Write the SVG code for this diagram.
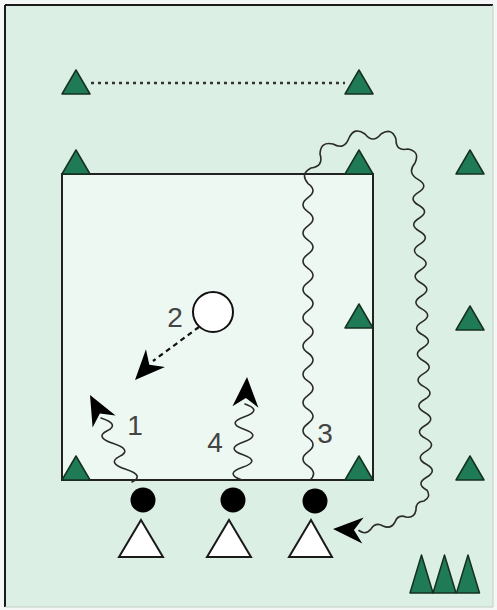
<svg xmlns="http://www.w3.org/2000/svg" xmlns:xlink="http://www.w3.org/1999/xlink" width="497" height="610" viewBox="0 0 497 610">
  <style>
    .cone { fill: #1f7a56; stroke: #16301f; stroke-width: 1.5; stroke-linejoin: round; }
    .wave { fill: none; stroke: #2a2a2a; stroke-width: 1.6; stroke-linecap: round; }
    .head { fill: #000; stroke: none; }
    .num { font-family: "Liberation Sans", Arial, sans-serif; font-size: 28px; fill: #444; text-anchor: middle; }
    .player { fill: #fff; stroke: #1a1a1a; stroke-width: 2; stroke-linejoin: miter; }
  </style>
  <defs>
    <path id="cone" class="cone" d="M0,-24 L14,0 L-14,0 Z"/>
    <path id="tall" class="cone" d="M0,-38 L11.5,0 L-11.5,0 Z"/>
    <path id="head" class="head" d="M0,0 L-30,-13 L-21,0 L-30,13 Z"/>
  </defs>

  <rect x="0" y="0" width="497" height="610" fill="#f4f7f5"/>
  <rect id="field" x="5" y="5" width="488" height="602" fill="#dcefe4"/>
  <line x1="5" y1="5" x2="493" y2="5" stroke="#1a1a1a" stroke-width="2"/>
  <line x1="5" y1="5" x2="5" y2="607" stroke="#1a1a1a" stroke-width="2"/>
  <line x1="493" y1="5" x2="493" y2="607" stroke="#c4cfc8" stroke-width="1"/>
  <line x1="5" y1="607" x2="493" y2="607" stroke="#c4cfc8" stroke-width="1"/>

  <g id="area">
    <rect x="62" y="174" width="311" height="306" fill="#eef8f2" stroke="#222" stroke-width="2"/>
  </g>

  <g id="connectors">
    <line x1="91" y1="83" x2="345" y2="83" stroke="#333" stroke-width="2.5" stroke-dasharray="3,4"/>
    <line x1="199" y1="327" x2="153" y2="361" stroke="#111" stroke-width="2.2" stroke-dasharray="5,4"/>
    <use xlink:href="#head" transform="translate(135,380) rotate(133)"/>
    <path class="wave" d="M132,482 Q145,475.6 125.8,469.2 T119.6,456.4 T113.4,443.6 T107.2,430.8 T101,418"/>
    <use xlink:href="#head" transform="translate(90,395) rotate(-118)"/>
    <path class="wave" d="M242,480 Q224,473.7 242.5,467.3 T243,454.7 T243.5,442 T244,429.3 T244.5,416.7 T245,404"/>
    <use xlink:href="#head" transform="translate(247,377) rotate(-87)"/>
    <path class="wave" d="M310,480 Q318,472.9 308,465.9 T308,451.8 T308,437.7 T308,423.5 T308,409.4 T308,395.3 T308,381.2 T308,367.1 T308,353 T308,338.9 T308,324.7 T308,310.6 T308,296.5 T308,282.4 T308,268.3 T308,254.2 T308,240.1 T308,225.9 T308,211.8 T308,197.7 T308,183.6
      Q299.7,173.9 311,168 Q323.9,166.4 320,154 Q320.4,141.1 333,144 Q344.5,150.4 349,138 Q354.6,126.3 365,134 Q373,144 381,134 Q391.7,127 396,139 Q395.6,151.7 408,149 Q420.4,151.5 415,163 Q406.7,173 418,179.4
      T418.4,192.35 T418.8,205.3 T419.1,218.25 T419.5,231.2 T419.9,244.15 T420.3,257.1 T420.6,270.05 T421,283 T421.4,295.95 T421.8,308.9 T422.1,321.85 T422.5,334.8 T422.9,347.75 T423.3,360.7 T423.6,373.65 T424,386.6 T424.4,399.55 T424.8,412.5 T425.1,425.45 T425.5,438.4 T425.9,451.35 T426.3,464.3 T426.6,477.25 T427,490.2
      Q431.3,497.2 424,501 Q415.5,501.5 416,510 Q414.4,518.4 406,517 Q398,514 395,522 Q390.9,529.7 383,526 Q375.6,521.7 371,529 Q365.7,535.7 359,530.5"/>
    <use xlink:href="#head" transform="translate(333,529) rotate(183)"/>
  </g>

  <g id="cones">
    <use xlink:href="#cone" x="76" y="94"/>
    <use xlink:href="#cone" x="359" y="94"/>
    <use xlink:href="#cone" x="76" y="174"/>
    <use xlink:href="#cone" x="359" y="174"/>
    <use xlink:href="#cone" x="470" y="174"/>
    <use xlink:href="#cone" x="359" y="328"/>
    <use xlink:href="#cone" x="470" y="330"/>
    <use xlink:href="#cone" x="76" y="480"/>
    <use xlink:href="#cone" x="359" y="480"/>
    <use xlink:href="#cone" x="470" y="480"/>
  </g>

  <g id="cone-stack">
    <use xlink:href="#tall" x="421.5" y="593"/>
    <use xlink:href="#tall" x="444.5" y="593"/>
    <use xlink:href="#tall" x="468" y="593"/>
  </g>

  <g id="ball">
    <circle cx="213" cy="312" r="20" fill="#fff" stroke="#111" stroke-width="2"/>
  </g>

  <g id="player1">
    <circle cx="143" cy="500" r="12.5" fill="#000"/>
    <path class="player" d="M141,520 L163,557 L119,557 Z"/>
  </g>
  <g id="player2">
    <circle cx="233" cy="500" r="12.5" fill="#000"/>
    <path class="player" d="M229,520 L251,557 L207,557 Z"/>
  </g>
  <g id="player3">
    <circle cx="315" cy="501" r="12.5" fill="#000"/>
    <path class="player" d="M311,520 L332,557 L289,557 Z"/>
  </g>

  <g id="labels">
    <text class="num" x="135" y="435">1</text>
    <text class="num" x="175" y="327">2</text>
    <text class="num" x="325" y="443">3</text>
    <text class="num" x="215" y="452">4</text>
  </g>
</svg>
